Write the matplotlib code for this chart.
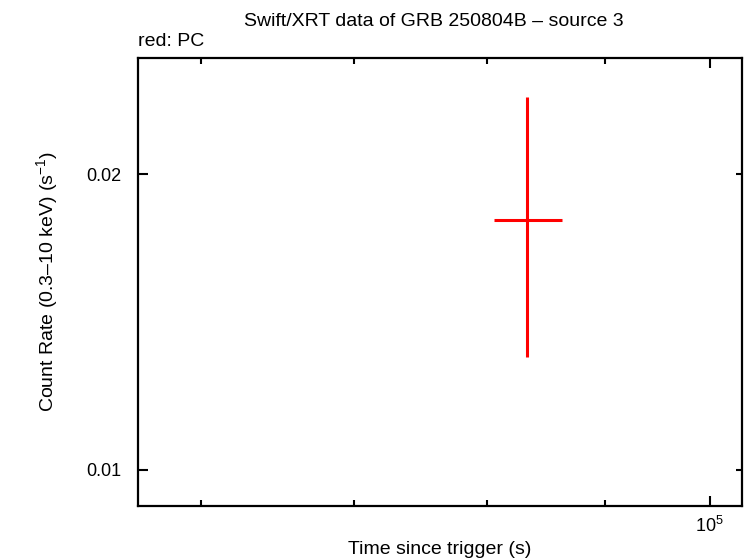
import matplotlib
matplotlib.use("Agg")
import matplotlib.pyplot as plt
from matplotlib.ticker import FixedLocator, NullLocator, FixedFormatter, NullFormatter

plt.rcParams['font.family'] = ['Liberation Sans', 'DejaVu Sans']
plt.rcParams['mathtext.fontset'] = 'custom'
plt.rcParams['mathtext.rm'] = 'Liberation Sans'

# PC mode point
t = [83260]
t_lo = [2730]
t_hi = [3000]
rate = [0.01795]
rate_lo = [0.01795 - 0.01304]
rate_hi = [0.02396 - 0.01795]

yticks = [0.01, 0.02]
ytick_labels = ["0.01", "0.02"]
xminor = [6e4, 7e4, 8e4, 9e4]

fig = plt.figure(figsize=(7.46, 5.58), dpi=100)
ax = fig.add_axes([0.185, 0.0932, 0.8096, 0.8028])

ax.errorbar(t, rate, xerr=[t_lo, t_hi], yerr=[rate_lo, rate_hi],
            fmt="none", ecolor="#ff0000", elinewidth=2.2, capsize=0)

ax.set_xscale("log")
ax.set_yscale("log")
ax.set_xlim(56330, 103310)
ax.set_ylim(0.00919, 0.02626)

ax.xaxis.set_major_locator(FixedLocator([1e5]))
ax.xaxis.set_major_formatter(FixedFormatter([r"$10^{5}$"]))
ax.xaxis.set_minor_locator(FixedLocator(xminor))
ax.xaxis.set_minor_formatter(NullFormatter())
ax.yaxis.set_major_locator(FixedLocator(yticks))
ax.yaxis.set_major_formatter(FixedFormatter(ytick_labels))
ax.yaxis.set_minor_locator(NullLocator())

ax.tick_params(which="both", direction="in", top=True, right=True,
               labelsize=13, width=1.5)
ax.tick_params(axis="x", which="major", length=7, pad=7)
ax.tick_params(axis="x", which="minor", length=4)
ax.tick_params(axis="y", which="major", length=7, pad=12)
for tk in ax.yaxis.get_major_ticks():
    tk.tick2line.set_markersize(4)
for s in ax.spines.values():
    s.set_linewidth(1.6)

ax.set_xlabel("Time since trigger (s)", fontsize=14, labelpad=4)
ax.set_ylabel("Count Rate (0.3\u201310 keV) (s$^{-1}$)", fontsize=14, labelpad=18)
fig.text(0.582, 0.961, "Swift/XRT data of GRB 250804B \u2013 source 3",
         ha="center", va="center", fontsize=14)
fig.text(0.185, 0.925, "red: PC", ha="left", va="center", fontsize=14)

fig.savefig("out.png", dpi=100)
